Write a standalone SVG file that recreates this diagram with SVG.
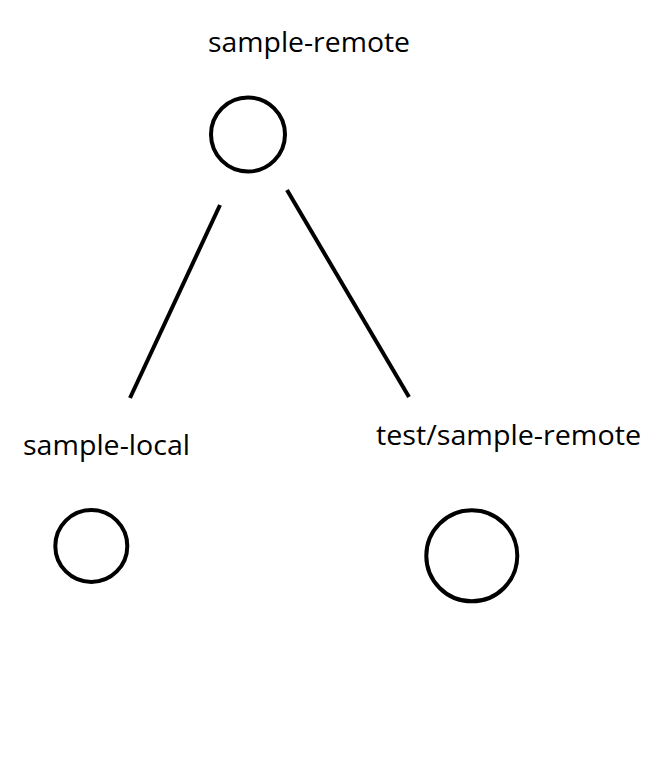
<svg xmlns="http://www.w3.org/2000/svg" width="658" height="757" viewBox="0 0 658 757">
<style>
.n{fill:none;stroke:#000;stroke-width:4}
.t{font-family:"Open Sans","Noto Sans",sans-serif;font-size:27.5px;fill:#000}
.e{stroke:#000;stroke-width:4;fill:none}
</style>
<rect width="658" height="757" fill="#fff"/>
<g id="connectors">
<line class="e" x1="220" y1="205" x2="130" y2="398"/>
<line class="e" x1="287" y1="190" x2="409" y2="397"/>
</g>
<g id="sample-remote">
<text class="t" x="208" y="52" textLength="202" lengthAdjust="spacingAndGlyphs">sample-remote</text>
<circle class="n" cx="248" cy="134.5" r="37"/>
</g>
<g id="sample-local">
<text class="t" x="23" y="455" textLength="167" lengthAdjust="spacingAndGlyphs">sample-local</text>
<circle class="n" cx="91.3" cy="546" r="36"/>
</g>
<g id="test-sample-remote">
<text class="t" x="376" y="445" textLength="265" lengthAdjust="spacingAndGlyphs">test/sample-remote</text>
<circle class="n" cx="471.8" cy="555.8" r="45.5"/>
</g>
</svg>
